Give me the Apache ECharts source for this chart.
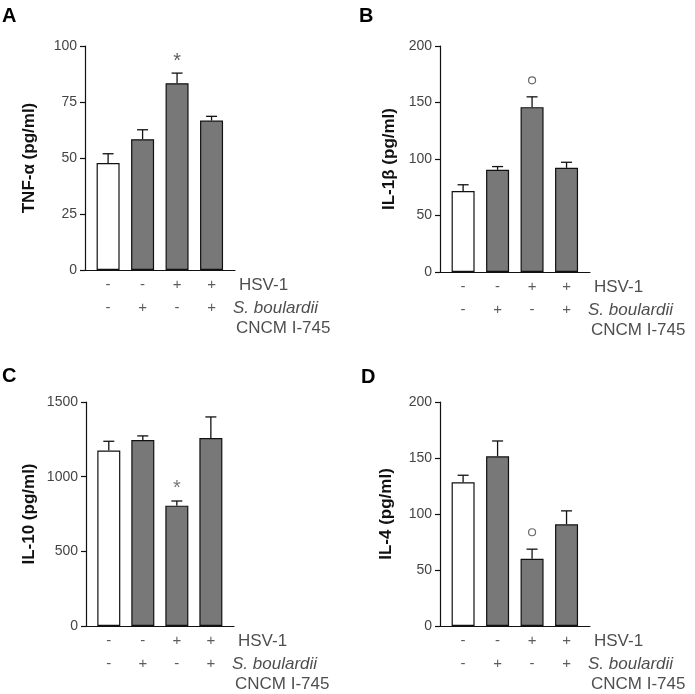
<!DOCTYPE html>
<html>
<head>
<meta charset="utf-8">
<script src="https://cdn.jsdelivr.net/npm/echarts@6/dist/echarts.min.js"></script>
<style>html,body{margin:0;padding:0;background:#fff;}#main{width:695px;height:694px;}</style>
</head>
<body>
<div id="main"></div>
<script>
// ---- data ----
const hsvSigns = ['-', '-', '+', '+'];
const boulardiiSigns = ['-', '+', '-', '+'];
const rowLabels = ['HSV-1', 'S. boulardii', 'CNCM I-745'];
const panelLetters = ['A', 'B', 'C', 'D'];
const yTitles = ['TNF-\u03b1 (pg/ml)', 'IL-1\u03b2 (pg/ml)', 'IL-10 (pg/ml)', 'IL-4 (pg/ml)'];

const tnfMean = [47.8, 58.4, 83.4, 66.7];
const tnfSem = [4.1, 4.2, 4.5, 1.9];
const il1bMean = [71.6, 90.4, 145.9, 92.2];
const il1bSem = [5.6, 2.9, 9.1, 4.9];
const il10Mean = [1175, 1246, 806, 1259];
const il10Sem = [62, 27, 31, 141];
const il4Mean = [128.3, 151.5, 60.0, 90.8];
const il4Sem = [6.3, 13.7, 8.6, 12.0];

const yMaxes = [100, 200, 1500, 200];
const yIntervals = [25, 50, 500, 50];

// significance marks: [group index, y value, symbol]
const tnfMark = [2, 95.4, '*'];
const il1bMark = [2, 169.6, 'o'];
const il10Mark = [2, 954, '*'];
const il4Mark = [2, 83.7, 'o'];

// ---- layout ----
const means = [tnfMean, il1bMean, il10Mean, il4Mean];
const sems = [tnfSem, il1bSem, il10Sem, il4Sem];
const marks = [tnfMark, il1bMark, il10Mark, il4Mark];
const grids = [
  {left: 85, top: 46, width: 150, height: 224},
  {left: 440, top: 46, width: 150, height: 226},
  {left: 86, top: 402, width: 148, height: 224},
  {left: 440, top: 402, width: 150, height: 224}
];
const nameGaps = [47, 42, 48, 45];
const letterPos = [[2, 6], [359, 6], [2, 366], [361, 367]];
const X_MIN = -0.67, X_MAX = 3.68;
const FONT = 'Liberation Sans, Arial, sans-serif';

const option = {
  backgroundColor: '#fff',
  animation: false,
  title: panelLetters.map((t, i) => ({
    text: t, left: letterPos[i][0], top: letterPos[i][1], padding: 0,
    textStyle: {fontSize: 20, fontWeight: 'bold', color: '#000', fontFamily: FONT}
  })),
  grid: grids,
  xAxis: grids.map((g, i) => ({
    type: 'value', gridIndex: i, min: X_MIN, max: X_MAX,
    axisLine: {show: true, onZero: false, lineStyle: {color: '#111', width: 1.2}},
    axisTick: {show: false}, axisLabel: {show: false}, splitLine: {show: false}
  })),
  yAxis: grids.map((g, i) => ({
    type: 'value', gridIndex: i, min: 0, max: yMaxes[i], interval: yIntervals[i],
    name: yTitles[i], nameLocation: 'middle', nameGap: nameGaps[i], nameRotate: 90,
    nameTextStyle: {fontSize: 17, fontWeight: 'bold', color: '#111', fontFamily: FONT},
    axisLine: {show: true, onZero: false, lineStyle: {color: '#111', width: 1.2}},
    axisTick: {show: true, inside: false, length: 5, lineStyle: {color: '#111', width: 1.2}},
    axisLabel: {fontSize: 14, color: '#444', margin: 8, fontFamily: FONT,
      formatter: function (v) { return String(v); }},
    splitLine: {show: false}
  })),
  series: []
};

grids.forEach((g, i) => {
  const m = means[i], s = sems[i];
  option.series.push({
    type: 'bar', xAxisIndex: i, yAxisIndex: i, barWidth: 23,
    data: m.map((v, k) => ({
      value: [k, v],
      itemStyle: {color: k === 0 ? '#ffffff' : '#787878', borderColor: '#111', borderWidth: 1.2}
    }))
  });
  option.series.push({
    type: 'custom', xAxisIndex: i, yAxisIndex: i,
    data: m.map((v, k) => [k, v, s[k]]),
    renderItem: function (params, api) {
      const x = api.value(0), mv = api.value(1), e = api.value(2);
      const b = api.coord([x, mv]);
      const t = api.coord([x, mv + e]);
      const st = {stroke: '#111', lineWidth: 1.3};
      return {type: 'group', children: [
        {type: 'line', shape: {x1: b[0], y1: b[1], x2: t[0], y2: t[1]}, style: st},
        {type: 'line', shape: {x1: t[0] - 5.5, y1: t[1], x2: t[0] + 5.5, y2: t[1]}, style: st}
      ]};
    },
    z: 3
  });
  const mk = marks[i];
  if (mk[2] === 'o') {
    option.series.push({
      type: 'scatter', xAxisIndex: i, yAxisIndex: i, symbol: 'circle', symbolSize: 7,
      itemStyle: {color: '#fff', borderColor: '#444', borderWidth: 1.2},
      data: [[mk[0], mk[1]]], silent: true
    });
  } else {
    option.series.push({
      type: 'scatter', xAxisIndex: i, yAxisIndex: i, symbolSize: 0,
      data: [{value: [mk[0], mk[1]], name: mk[2]}], silent: true,
      label: {show: true, position: 'inside', formatter: '{b}', fontSize: 20,
        color: i === 2 ? '#555' : '#333', fontFamily: FONT, offset: [0, 5]}
    });
  }
  const signData = [];
  hsvSigns.forEach((sg, k) => signData.push({value: [k, 0], name: sg, label: {offset: [0, 15]}}));
  boulardiiSigns.forEach((sg, k) => signData.push({value: [k, 0], name: sg, label: {offset: [0, 38]}}));
  option.series.push({
    type: 'scatter', xAxisIndex: i, yAxisIndex: i, symbolSize: 0, silent: true, clip: false,
    data: signData,
    label: {show: true, position: 'inside', formatter: '{b}', fontSize: 15, color: '#333', fontFamily: FONT}
  });
  option.series.push({
    type: 'scatter', xAxisIndex: i, yAxisIndex: i, symbolSize: 0, silent: true, clip: false,
    data: [
      {value: [X_MAX, 0], name: rowLabels[0], label: {offset: [4, 15]}},
      {value: [X_MAX, 0], name: rowLabels[1], label: {offset: [-2, 38], fontStyle: 'italic'}},
      {value: [X_MAX, 0], name: rowLabels[2], label: {offset: [1, 58]}}
    ],
    label: {show: true, position: 'inside', align: 'left', formatter: '{b}', fontSize: 17, color: '#222', fontFamily: FONT}
  });
});

const chart = echarts.init(document.getElementById('main'), null, {renderer: 'canvas'});
chart.setOption(option);
</script>
</body>
</html>
